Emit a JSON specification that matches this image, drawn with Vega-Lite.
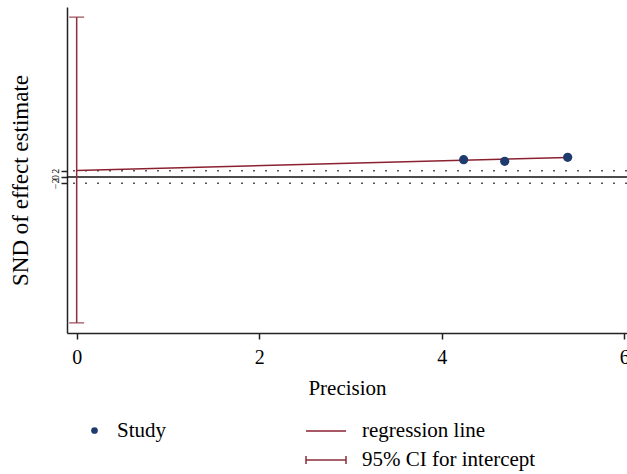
{
  "$schema": "https://vega.github.io/schema/vega-lite/v6.json",
  "autosize": "none",
  "width": 560,
  "height": 326,
  "padding": {"left": 67, "top": 7, "right": 0, "bottom": 141},
  "background": "white",
  "config": {
    "view": {"stroke": null},
    "font": "Liberation Serif",
    "axis": {"grid": false, "domainColor": "#222", "domainWidth": 1.5, "tickColor": "#222", "tickWidth": 1.5, "labelColor": "#000", "titleColor": "#000", "labelFont": "Liberation Serif", "titleFont": "Liberation Serif", "titleFontWeight": "normal"},
    "legend": {"labelFont": "Liberation Serif", "labelFontSize": 21, "labelColor": "#000", "labelLimit": 400, "padding": 0, "offset": 0}
  },
  "datasets": {
    "studies": [
      {"precision": 4.24, "snd": 5.46, "series": "Study"},
      {"precision": 4.69, "snd": 4.95, "series": "Study"},
      {"precision": 5.38, "snd": 6.21, "series": "Study"}
    ],
    "regression": [
      {"precision": 0, "snd": 2.03, "kind": "regression line"},
      {"precision": 5.38, "snd": 6.17, "kind": "regression line"}
    ],
    "ci": [
      {"precision": 0, "lo": -46.0, "hi": 50.4, "kind": "95% CI for intercept"}
    ],
    "ciends": [
      {"precision": 0, "snd": -46.0},
      {"precision": 0, "snd": 50.4}
    ],
    "bands": [{"snd": -2}, {"snd": 2}],
    "zero": [{"snd": 0}]
  },
  "encoding": {
    "x": {"type": "quantitative"},
    "y": {"type": "quantitative"}
  },
  "layer": [
    {
      "data": {"name": "bands"},
      "mark": {"type": "rule", "color": "#555", "strokeWidth": 1.5, "strokeDash": [2, 10]},
      "encoding": {"y": {"field": "snd", "type": "quantitative"}}
    },
    {
      "data": {"name": "zero"},
      "mark": {"type": "rule", "color": "#111", "strokeWidth": 1.5},
      "encoding": {"y": {"field": "snd", "type": "quantitative"}}
    },
    {
      "data": {"name": "ci"},
      "mark": {"type": "rule", "strokeWidth": 1.5},
      "encoding": {
        "x": {"field": "precision", "type": "quantitative"},
        "y": {"field": "lo", "type": "quantitative"},
        "y2": {"field": "hi"},
        "stroke": {"field": "kind", "type": "nominal"}
      }
    },
    {
      "data": {"name": "ciends"},
      "mark": {"type": "tick", "orient": "horizontal", "color": "#8b2e3a", "size": 15, "thickness": 1.5},
      "encoding": {
        "x": {"field": "precision", "type": "quantitative"},
        "y": {"field": "snd", "type": "quantitative"}
      }
    },
    {
      "data": {"name": "regression"},
      "mark": {"type": "line", "strokeWidth": 1.5},
      "encoding": {
        "x": {"field": "precision", "type": "quantitative"},
        "y": {"field": "snd", "type": "quantitative"},
        "stroke": {
          "field": "kind", "type": "nominal",
          "scale": {"domain": ["regression line", "95% CI for intercept"], "range": ["#8b2030", "#8b2e3a"]},
          "legend": {
            "title": null, "orient": "none", "legendX": 248, "legendY": 413,
            "symbolSize": 400, "symbolStrokeWidth": 1.5, "labelOffset": 25, "rowPadding": 8,
            "encode": {"symbols": {"update": {"shape": {"signal": "datum.value === 'regression line' ? 'M-2,0L2,0' : 'M-2,-0.4L-2,0.4M-2,0L2,0M2,-0.4L2,0.4'"}}}}
          }
        }
      }
    },
    {
      "data": {"name": "studies"},
      "mark": {"type": "point", "filled": true, "size": 85, "opacity": 1},
      "encoding": {
        "x": {
          "field": "precision", "type": "quantitative", "title": "Precision",
          "scale": {"domain": [-0.106, 6.03], "nice": false, "zero": false},
          "axis": {"values": [0, 2, 4, 6], "format": "d", "labelFontSize": 20, "titleFontSize": 21, "tickSize": 6, "labelPadding": 8, "titlePadding": 10, "labelFlush": false}
        },
        "y": {
          "field": "snd", "type": "quantitative", "title": "SND of effect estimate",
          "scale": {"domain": [-49.2, 53.6], "nice": false, "zero": false},
          "axis": {"values": [-2, 0, 2], "format": "d", "labelAngle": 270, "labelFontSize": 10, "labelOverlap": false, "titleFontSize": 23, "tickSize": 6, "labelPadding": 1, "titlePadding": 18, "titleY": 173}
        },
        "fill": {
          "field": "series", "type": "nominal",
          "scale": {"domain": ["Study"], "range": ["#1f3b6e"]},
          "legend": {"title": null, "orient": "none", "legendX": 17, "legendY": 413, "symbolType": "circle", "symbolSize": 45, "labelOffset": 12}
        }
      }
    }
  ]
}
